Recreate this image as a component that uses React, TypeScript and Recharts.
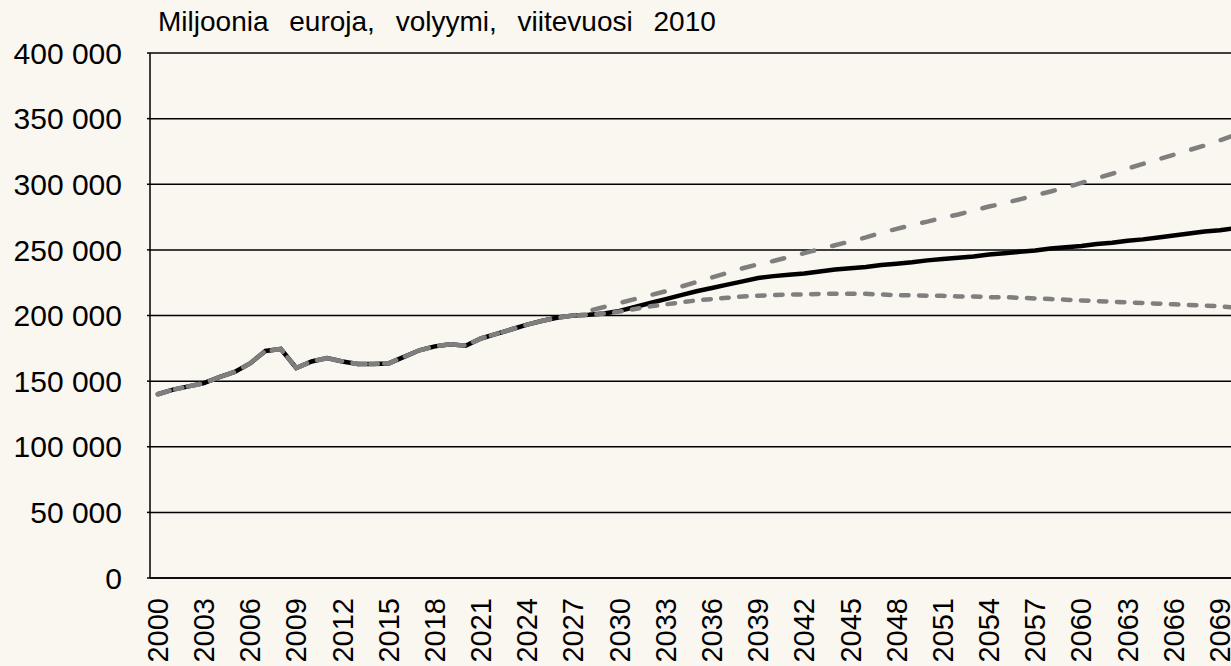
import { LineChart, Line, XAxis, YAxis, CartesianGrid } from "recharts";

// vuodet 2000-2070
const years = Array.from({ length: 71 }, (_, i) => 2000 + i);

// toteutunut kehitys 2000-2027, sama kaikissa skenaarioissa
const history = [
  140000, 143500, 146000, 148500, 153000, 157000, 163500, 173000, 174500, 160000,
  165000, 167500, 165000, 163000, 163000, 163500, 168500, 173500, 176500, 178000,
  177000, 182500, 186000, 189500, 193000, 196000, 198500, 200000,
];

// projektiot 2028-2070
const baselineProj = [
  200500, 201500, 203500, 206500, 209500, 212500, 215500, 218500, 221000, 223500,
  226000, 228500, 230000, 231000, 232000, 233500, 235000, 236000, 237000, 238500,
  239500, 240500, 242000, 243000, 244000, 245000, 246500, 247500, 248500, 249500,
  251000, 252000, 253000, 254500, 255500, 257000, 258000, 259500, 261000, 262500,
  264000, 265000, 266500,
];

const highProj = [
  203500, 206500, 209500, 212500, 215500, 218500, 222000, 225500, 229000, 232500,
  236000, 239000, 241500, 244500, 247500, 250500, 253500, 256500, 259500, 263000,
  266000, 269000, 271500, 274500, 277000, 280000, 283000, 285500, 288500, 291500,
  294500, 297500, 301000, 304500, 308000, 312000, 315500, 319000, 322500, 326000,
  329500, 333500, 337500,
];

const lowProj = [
  200500, 201500, 203000, 205000, 207000, 208500, 210000, 211500, 212500, 213500,
  214500, 215000, 215500, 216000, 216000, 216500, 216500, 216500, 216500, 216000,
  215500, 215500, 215000, 215000, 214500, 214500, 214000, 214000, 213500, 213000,
  212500, 212000, 211500, 211000, 210500, 210000, 209500, 209000, 208500, 208000,
  207500, 207000, 206000,
];

const yTicks = [0, 50000, 100000, 150000, 200000, 250000, 300000, 350000, 400000];

const pick = (proj: number[], i: number) =>
  i < history.length ? history[i] : proj[i - history.length];

const data = years.map((year, i) => ({
  year,
  baseline: pick(baselineProj, i),
  high: pick(highProj, i),
  low: pick(lowProj, i),
}));

const fmt = (v: number) => String(v).replace(/\B(?=(\d{3})+(?!\d))/g, " ");

// vuosiluvut pystyyn, yläpää noin 20 px akselin alapuolella
const YearTick = ({ x, y, payload }: any) => (
  <text
    x={x}
    y={y + 12}
    transform={`rotate(-90, ${x}, ${y + 12})`}
    textAnchor="end"
    dy="0.35em"
    fontSize={29}
    fill="#000"
    fontFamily="'Liberation Sans', Arial, sans-serif"
  >
    {payload.value}
  </text>
);

export default function App() {
  return (
    <div
      style={{
        position: "absolute",
        left: 0,
        top: 0,
        width: 1231,
        height: 666,
        overflow: "hidden",
        background: "#faf6f0",
        fontFamily: "'Liberation Sans', Arial, sans-serif",
      }}
    >
      <div
        style={{
          position: "absolute",
          left: 158,
          top: 8,
          fontSize: 28,
          lineHeight: "28px",
          wordSpacing: 13,
          whiteSpace: "nowrap",
          color: "#000",
        }}
      >
        Miljoonia euroja, volyymi, viitevuosi 2010
      </div>
      <LineChart
        width={1260}
        height={666}
        data={data}
        margin={{ top: 53, right: 17, left: 0, bottom: 0 }}
      >
        <CartesianGrid vertical={false} stroke="#000" strokeWidth={1.5} />
        <XAxis
          dataKey="year"
          interval={2}
          height={88}
          tickLine={false}
          axisLine={{ stroke: "#000", strokeWidth: 1.5 }}
          padding={{ left: 7.7, right: 7.7 }}
          tick={<YearTick />}
        />
        <YAxis
          width={150}
          domain={[0, 400000]}
          ticks={yTicks}
          tickFormatter={fmt}
          tickSize={3}
          tickMargin={25}
          tickLine={{ stroke: "#000", strokeWidth: 1.5 }}
          axisLine={{ stroke: "#000", strokeWidth: 1.5 }}
          tick={{ fontSize: 30, fill: "#000" }}
        />
        <Line
          dataKey="baseline"
          stroke="#000"
          strokeWidth={4.5}
          dot={false}
          isAnimationActive={false}
        />
        <Line
          dataKey="low"
          stroke="#7f7f7f"
          strokeWidth={4.5}
          strokeDasharray="7.5 10.5"
          strokeLinecap="round"
          dot={false}
          isAnimationActive={false}
        />
        <Line
          dataKey="high"
          stroke="#7f7f7f"
          strokeWidth={4.5}
          strokeDasharray="12.5 18.5"
          strokeLinecap="round"
          dot={false}
          isAnimationActive={false}
        />
      </LineChart>
    </div>
  );
}
